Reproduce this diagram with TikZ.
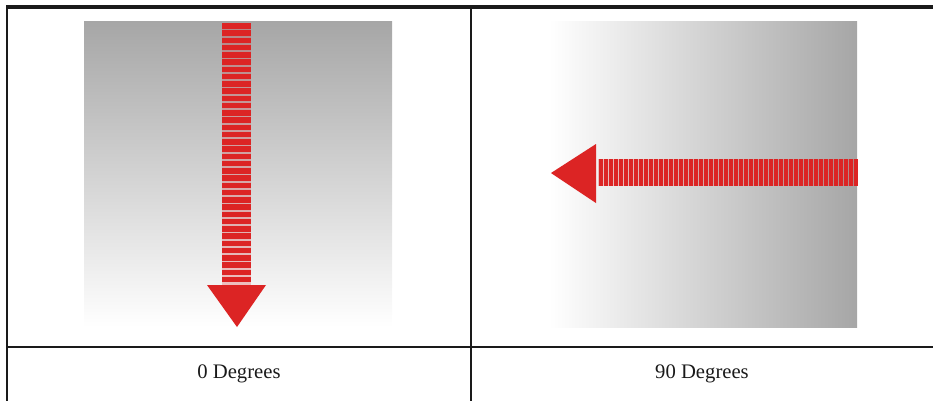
\documentclass[tikz,border=0pt]{standalone}
\usepackage{fontspec}
\setmainfont{Liberation Serif}
\usepackage{tikz}
\usetikzlibrary{positioning,calc}
\usepackage{xcolor}
\definecolor{tblline}{HTML}{1A1A1A}
\definecolor{arrred}{HTML}{DC2424}
\definecolor{panelgray}{HTML}{A6A6A6}

\begin{document}
\begin{tikzpicture}[
    x=0.75pt, y=-0.75pt,
    rule/.style={draw=tblline, line width=1.5pt},
    toprule/.style={draw=tblline, line width=2.3pt},
    shaft/.style={fill=arrred, fill opacity=0.25, draw=none},
    bar/.style={fill=arrred, draw=none},
    head/.style={fill=arrred, draw=none},
    caption/.style={font=\fontsize{15.5}{18}\selectfont, text=tblline, inner sep=0pt}
]
\useasboundingbox (0,0) rectangle (933,401);

% table rules
\draw[toprule] (6,7) -- (933,7);
\draw[rule] (7,6) -- (7,401);
\draw[rule] (471,6) -- (471,401);
\draw[rule] (6,347) -- (933,347);

% 0 degrees panel
\shade[top color=panelgray, bottom color=white] (84,21) rectangle (392,327);
\fill[shaft] (222,23) rectangle (251,285);
\foreach \i in {0,...,35}
    \fill[bar] (222,{23+7.25*\i}) rectangle (251,{28.5+7.25*\i});
\fill[head] (207,285) -- (266,285) -- (237,327) -- cycle;

% 90 degrees panel
\shade[left color=white, right color=panelgray] (549,21) rectangle (857,327);
\fill[shaft] (598,159) rectangle (857,186);
\foreach \i in {0,...,51}
    \fill[bar] ({599+5*\i},159) rectangle ({602.6+5*\i},186);
\fill[head] (596,144) -- (596,203) -- (551,173) -- cycle;

% captions
\node[caption] (label0) at (239,374) {0 Degrees};
\node[caption] (label90) at (702,374) {90 Degrees};
\end{tikzpicture}
\end{document}
